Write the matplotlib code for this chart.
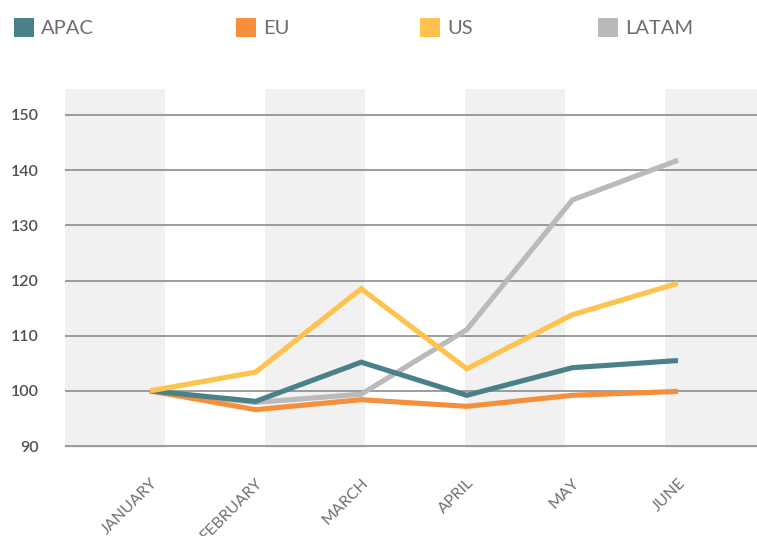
import matplotlib
matplotlib.use("Agg")
import matplotlib.pyplot as plt
from matplotlib.patches import Rectangle

months = ["JANUARY", "FEBRUARY", "MARCH", "APRIL", "MAY", "JUNE"]
series_names = ["APAC", "EU", "US", "LATAM"]
apac = [100.0, 98.1, 105.2, 99.2, 104.2, 105.5]
eu = [100.0, 96.6, 98.4, 97.2, 99.2, 99.9]
us = [100.0, 103.4, 118.5, 104.0, 113.8, 119.5]
latam = [100.0, 97.9, 99.4, 111.1, 134.6, 141.8]
y_ticks = [90, 100, 110, 120, 130, 140, 150]

colors = {"APAC": "#4a8087", "EU": "#f58f3b", "US": "#fec34e", "LATAM": "#bababa"}
values = {"APAC": apac, "EU": eu, "US": us, "LATAM": latam}

plt.rcParams["font.family"] = ["Lato", "DejaVu Sans"]

W, H = 757, 536
fig = plt.figure(figsize=(W / 100, H / 100), dpi=100)
ax = fig.add_axes([65 / W, 1 - 448 / H, (757 - 65) / W, (448 - 89) / H])

# alternating background bands
bw = 100 / 692
i = 0
while i * bw < 1:
    if i % 2 == 0:
        ax.add_patch(Rectangle((i * bw, 0), bw, 1, transform=ax.transAxes,
                               facecolor="#f1f1f1", edgecolor="none", zorder=0))
    i += 1

x = list(range(len(months)))
for name in ["LATAM", "EU", "APAC", "US"]:
    ax.plot(x, values[name], color=colors[name], lw=3.7, zorder=3,
            solid_joinstyle="miter", solid_capstyle="butt")

ax.set_xlim(-85 / 105.6, 607 / 105.6)
ax.set_ylim(89.65, 154.7)
ax.set_yticks(y_ticks)
ax.set_yticklabels([str(v) for v in y_ticks], fontsize=11.5, color="#505050",
                   fontweight="semibold")
ax.yaxis.grid(True, color="#8c8c8c", lw=1.2, zorder=1)
ax.set_axisbelow(False)
ax.tick_params(axis="y", length=0, pad=19)
ax.set_xticks(x)
ax.set_xticklabels(months, rotation=45, ha="right", va="top",
                   rotation_mode="anchor", fontsize=11.5, color="#707070")
ax.tick_params(axis="x", length=0, pad=20)
for s in ax.spines.values():
    s.set_visible(False)

# legend row
leg_x = [14, 236, 420, 598]
for name, lx in zip(series_names, leg_x):
    fig.patches.append(Rectangle((lx / W, 1 - 37 / H), 20 / W, 19 / H,
                                 transform=fig.transFigure,
                                 facecolor=colors[name], edgecolor="none"))
    fig.text((lx + 27) / W, 1 - 28 / H, name, fontsize=14.5, color="#6e6e6e",
             va="center", ha="left")

fig.savefig("out.png", dpi=100)
